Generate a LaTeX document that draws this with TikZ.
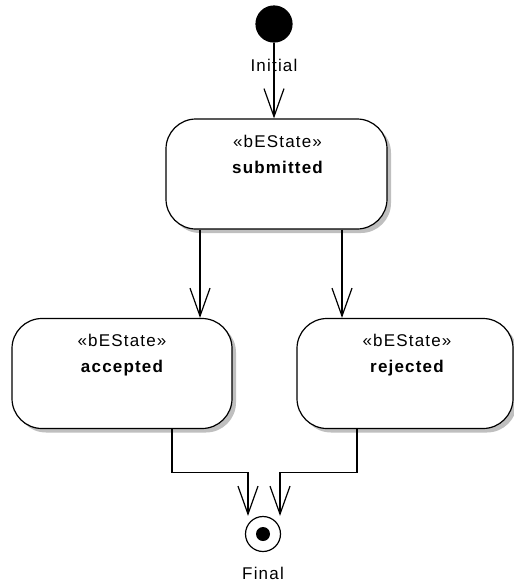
\documentclass[tikz,border=0pt]{standalone}
\usepackage{fontspec}
\setmainfont[LetterSpace=7]{Liberation Sans}
\usetikzlibrary{arrows.meta,shadows}

\begin{document}
\begin{tikzpicture}[x=1pt,y=-1pt,line width=1.2pt,
  statebox/.style={draw,fill=white,rounded corners=30pt,
    minimum width=221pt,minimum height=110pt,inner sep=0pt,
    drop shadow={shadow xshift=4pt,shadow yshift=-4pt,fill=black,opacity=.25}},
  txt/.style={font=\fontsize{17}{20}\selectfont,anchor=base,inner sep=0pt},
  arr/.style={-{Straight Barb[length=28pt,width=20pt,line width=1.2pt]}},
  initstate/.style={circle,fill=black,draw,minimum size=36pt,inner sep=0pt},
  finalstate/.style={circle,draw,fill=white,minimum size=35pt,inner sep=0pt}]
\useasboundingbox (0,0) rectangle (514,584);

% states
\node[initstate] (init) at (274,24) {};
\node[txt] (initlbl) at (274,71.5) {Initial};

\node[statebox] (sub) at (276.5,174) {};
\node[txt] (subst) at (277.5,147.5) {«bEState»};
\node[txt] (subname) at (277.5,173) {\bfseries submitted};

\node[statebox,minimum width=220pt] (acc) at (122,373.5) {};
\node[txt] (accst) at (122,346.5) {«bEState»};
\node[txt] (accname) at (122,372) {\bfseries accepted};

\node[statebox,minimum width=216pt] (rej) at (405,373.5) {};
\node[txt] (rejst) at (407,346.5) {«bEState»};
\node[txt] (rejname) at (407,372) {\bfseries rejected};

\node[finalstate] (fin) at (263,534) {};
\fill (fin.center) circle (7pt);
\node[txt] (finlbl) at (263,579) {Final};

% transitions
\draw[arr] (init.south) -- (init.south |- sub.north);
\draw[arr] ([xshift=-76.5pt]sub.south) -- ([xshift=-76.5pt]sub.south |- acc.north);
\draw[arr] ([xshift=65.5pt]sub.south) -- ([xshift=65.5pt]sub.south |- rej.north);
\draw[arr] ([xshift=50pt]acc.south) -- ++(0,43) -| ([xshift=-15pt]fin.north);
\draw[arr] ([xshift=-48pt]rej.south) -- ++(0,43) -| ([xshift=17pt]fin.north);
\end{tikzpicture}
\end{document}
